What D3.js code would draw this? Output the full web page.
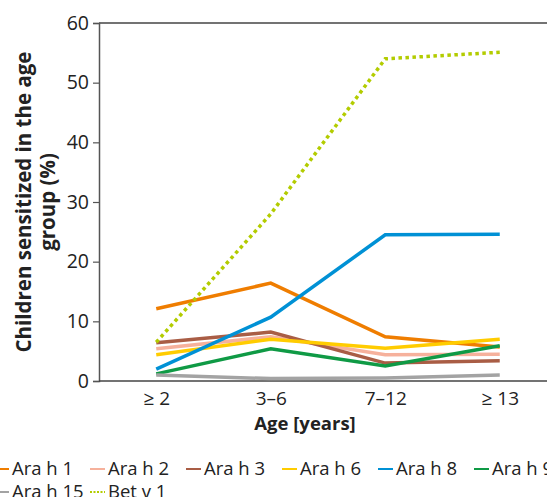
<!DOCTYPE html>
<html>
<head>
<meta charset="utf-8">
<script src="https://cdn.jsdelivr.net/npm/d3@7"></script>
<style>
  body { margin: 0; background: #fff; }
  text { font-family: "Open Sans", sans-serif; fill: #222; }
</style>
</head>
<body>
<div id="chart"></div>
<script>
// age groups on the x axis
const ageGroups = ["≥ 2", "3–6", "7–12", "≥ 13"];
const yTicks = [0, 10, 20, 30, 40, 50, 60];

// percentage of children sensitized per allergen
const araH1  = [12.1, 16.4, 7.4, 5.7];
const araH2  = [5.4, 7.4, 4.4, 4.5];
const araH3  = [6.4, 8.2, 3.0, 3.4];
const araH6  = [4.4, 7.0, 5.5, 7.0];
const araH8  = [2.0, 10.7, 24.5, 24.6];
const araH9  = [1.2, 5.4, 2.5, 5.9];
const araH15 = [1.0, 0.4, 0.5, 1.0];
const betV1  = [6.5, 28.0, 54.0, 55.1];

const seriesNames = ["Ara h 1", "Ara h 2", "Ara h 3", "Ara h 6", "Ara h 8", "Ara h 9", "Ara h 15", "Bet v 1"];
const seriesValues = [araH1, araH2, araH3, araH6, araH8, araH9, araH15, betV1];
const seriesColors = ["#ef7d00", "#f6b19c", "#a95d45", "#ffcc00", "#0091d5", "#0f9a45", "#a3a3a3", "#b3cc00"];

const series = seriesNames.map((name, i) => ({
    name: name,
    color: seriesColors[i],
    dotted: name === "Bet v 1",
    values: seriesValues[i].map((v, j) => ({group: ageGroups[j], value: v}))
}));

const W = 547, H = 497;
const margin = {top: 23, right: -10, bottom: 116, left: 99};
const width = W - margin.left - margin.right,
      height = H - margin.top - margin.bottom;

const svg = d3.select("#chart").append("svg")
    .attr("width", W)
    .attr("height", H);

const g = svg.append("g")
    .attr("transform", "translate(" + margin.left + "," + margin.top + ")");

const xScale = d3.scalePoint().domain(ageGroups).range([0, width]).padding(0.5);
const yScale = d3.scaleLinear().domain([0, 60]).range([height, 0]);

// top frame line
g.append("line")
    .attr("x1", 0).attr("x2", W - margin.left)
    .attr("y1", yScale(60)).attr("y2", yScale(60))
    .attr("stroke", "#444").attr("stroke-width", 1.5);

// y axis
const yAxis = g.append("g")
    .call(d3.axisLeft(yScale).tickValues(yTicks).tickSize(6).tickPadding(4));
yAxis.select(".domain").attr("stroke", "#555").attr("stroke-width", 1.5);
yAxis.selectAll(".tick line").attr("stroke", "#555").attr("stroke-width", 1.2);
yAxis.selectAll(".tick text").style("font-size", "19.5px").attr("fill", "#222");

// x axis
const xAxis = g.append("g")
    .attr("transform", `translate(0, ${height})`)
    .call(d3.axisBottom(xScale).tickSize(0).tickPadding(11));
xAxis.select(".domain").attr("d", `M0,0H${W - margin.left}`)
    .attr("stroke", "#444").attr("stroke-width", 1.5);
xAxis.selectAll(".tick text").style("font-size", "19px").attr("fill", "#222");

// axis titles
svg.append("text")
    .attr("x", 305).attr("y", 430)
    .attr("text-anchor", "middle")
    .style("font-size", "18.5px").style("font-weight", "bold")
    .text("Age [years]");

const yTitle = svg.append("text")
    .attr("transform", "translate(31," + (margin.top + height / 2) + ") rotate(-90)")
    .attr("text-anchor", "middle")
    .style("font-size", "20.5px").style("font-weight", "bold");
yTitle.append("tspan").attr("x", 0).attr("dy", 0).text("Children sensitized in the age");
yTitle.append("tspan").attr("x", 0).attr("dy", 24).text("group (%)");

// lines
const line = d3.line()
    .x(d => xScale(d.group))
    .y(d => yScale(d.value));

g.selectAll(".series")
    .data(series)
    .enter().append("path")
    .attr("class", "series")
    .attr("fill", "none")
    .attr("stroke", d => d.color)
    .attr("stroke-width", 3.5)
    .attr("stroke-dasharray", d => d.dotted ? "3.5,3.5" : null)
    .attr("stroke-linejoin", "miter")
    .attr("d", d => line(d.values));

// legend: 6 items on first row, rest on second
const legend = svg.append("g");
const items = legend.selectAll(".legend-item")
    .data(series)
    .enter().append("g")
    .attr("class", "legend-item")
    .attr("transform", (d, i) => `translate(${12 + (i % 6) * 96}, ${i < 6 ? 469 : 492})`);

items.append("line")
    .attr("x1", -18).attr("x2", -3)
    .attr("y1", 0).attr("y2", 0)
    .attr("stroke", d => d.color)
    .attr("stroke-width", 2)
    .attr("stroke-dasharray", d => d.dotted ? "2,1.5" : null);

items.append("text")
    .attr("x", 0).attr("dy", "0.35em")
    .style("font-size", "18.5px")
    .text(d => d.name);
</script>
</body>
</html>
